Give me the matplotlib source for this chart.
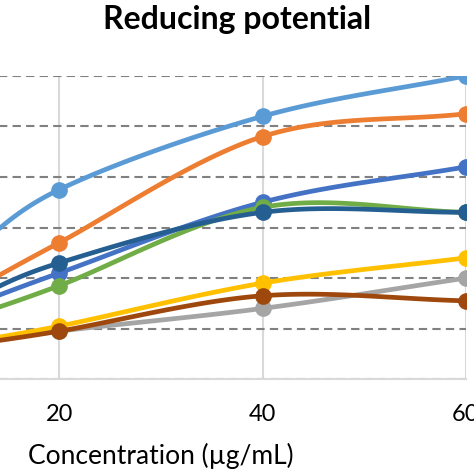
import numpy as np
import matplotlib
matplotlib.use("Agg")
import matplotlib.pyplot as plt

# concentration (ug/mL)
conc = [10, 20, 40, 60]

# absorbance readings per sample
s1 = [0.46, 0.75, 1.04, 1.20]
s2 = [0.32, 0.54, 0.96, 1.05]
s3 = [0.13, 0.19, 0.28, 0.40]
s4 = [0.14, 0.21, 0.38, 0.48]
s5 = [0.27, 0.42, 0.70, 0.84]
s6 = [0.23, 0.37, 0.68, 0.66]
s7 = [0.29, 0.46, 0.66, 0.66]
s8 = [0.13, 0.19, 0.33, 0.31]

series = [s1, s2, s3, s4, s5, s6, s7, s8]
colors = ['#5B9BD5', '#ED7D31', '#A5A5A5', '#FFC000',
          '#4472C4', '#70AD47', '#255E91', '#9E480E']

xticks = [0, 20, 40, 60]
xtick_labels = ['', '20', '40', '60']


def smooth(x, y, n=40):
    # Catmull-Rom curve through the points, like Excel's smoothed line
    x = np.asarray(x, float)
    y = np.asarray(y, float)
    px = np.concatenate([[2 * x[0] - x[1]], x, [2 * x[-1] - x[-2]]])
    py = np.concatenate([[2 * y[0] - y[1]], y, [2 * y[-1] - y[-2]]])
    xs, ys = [], []
    t = np.linspace(0, 1, n)
    for i in range(1, len(px) - 2):
        for arr, out in ((px, xs), (py, ys)):
            p0, p1, p2, p3 = arr[i - 1], arr[i], arr[i + 1], arr[i + 2]
            out.append(0.5 * (2 * p1 + (-p0 + p2) * t
                              + (2 * p0 - 5 * p1 + 4 * p2 - p3) * t ** 2
                              + (-p0 + 3 * p1 - 3 * p2 + p3) * t ** 3))
    return np.concatenate(xs), np.concatenate(ys)


plt.rcParams['font.family'] = ['Lato', 'DejaVu Sans']

fig = plt.figure(figsize=(4.74, 4.74), dpi=100)
ax = fig.add_axes([-0.304, 0.2, 1.287, 0.64])

for ys, c in zip(series, colors):
    sx, sy = smooth(conc, ys)
    ax.plot(sx, sy, color=c, lw=3.4, solid_capstyle='round', zorder=3)
    ax.plot(conc, ys, 'o', color=c, ms=11, zorder=3)

ax.set_xlim(0, 60)
ax.set_ylim(0, 1.2)
ax.set_xticks(xticks)
ax.set_xticklabels(xtick_labels)
ax.set_yticks(np.arange(0, 1.21, 0.2))
ax.tick_params(length=0, labelsize=17, pad=18)
ax.tick_params(axis='y', labelleft=False)
ax.grid(axis='x', color='#D9D9D9', lw=1.5)
ax.grid(axis='y', color='#808080', lw=1.5, ls=(0, (4, 2.5)))
for side in ['top', 'left', 'right']:
    ax.spines[side].set_visible(False)
ax.spines['bottom'].set_color('#D9D9D9')
ax.spines['bottom'].set_linewidth(1.5)
ax.set_xlabel('Concentration (µg/mL)', fontsize=19, labelpad=13)

fig.text(0.5, 0.958, 'Reducing potential', ha='center', va='center',
         fontsize=23, fontweight='bold')

fig.savefig('out.png', dpi=100)
